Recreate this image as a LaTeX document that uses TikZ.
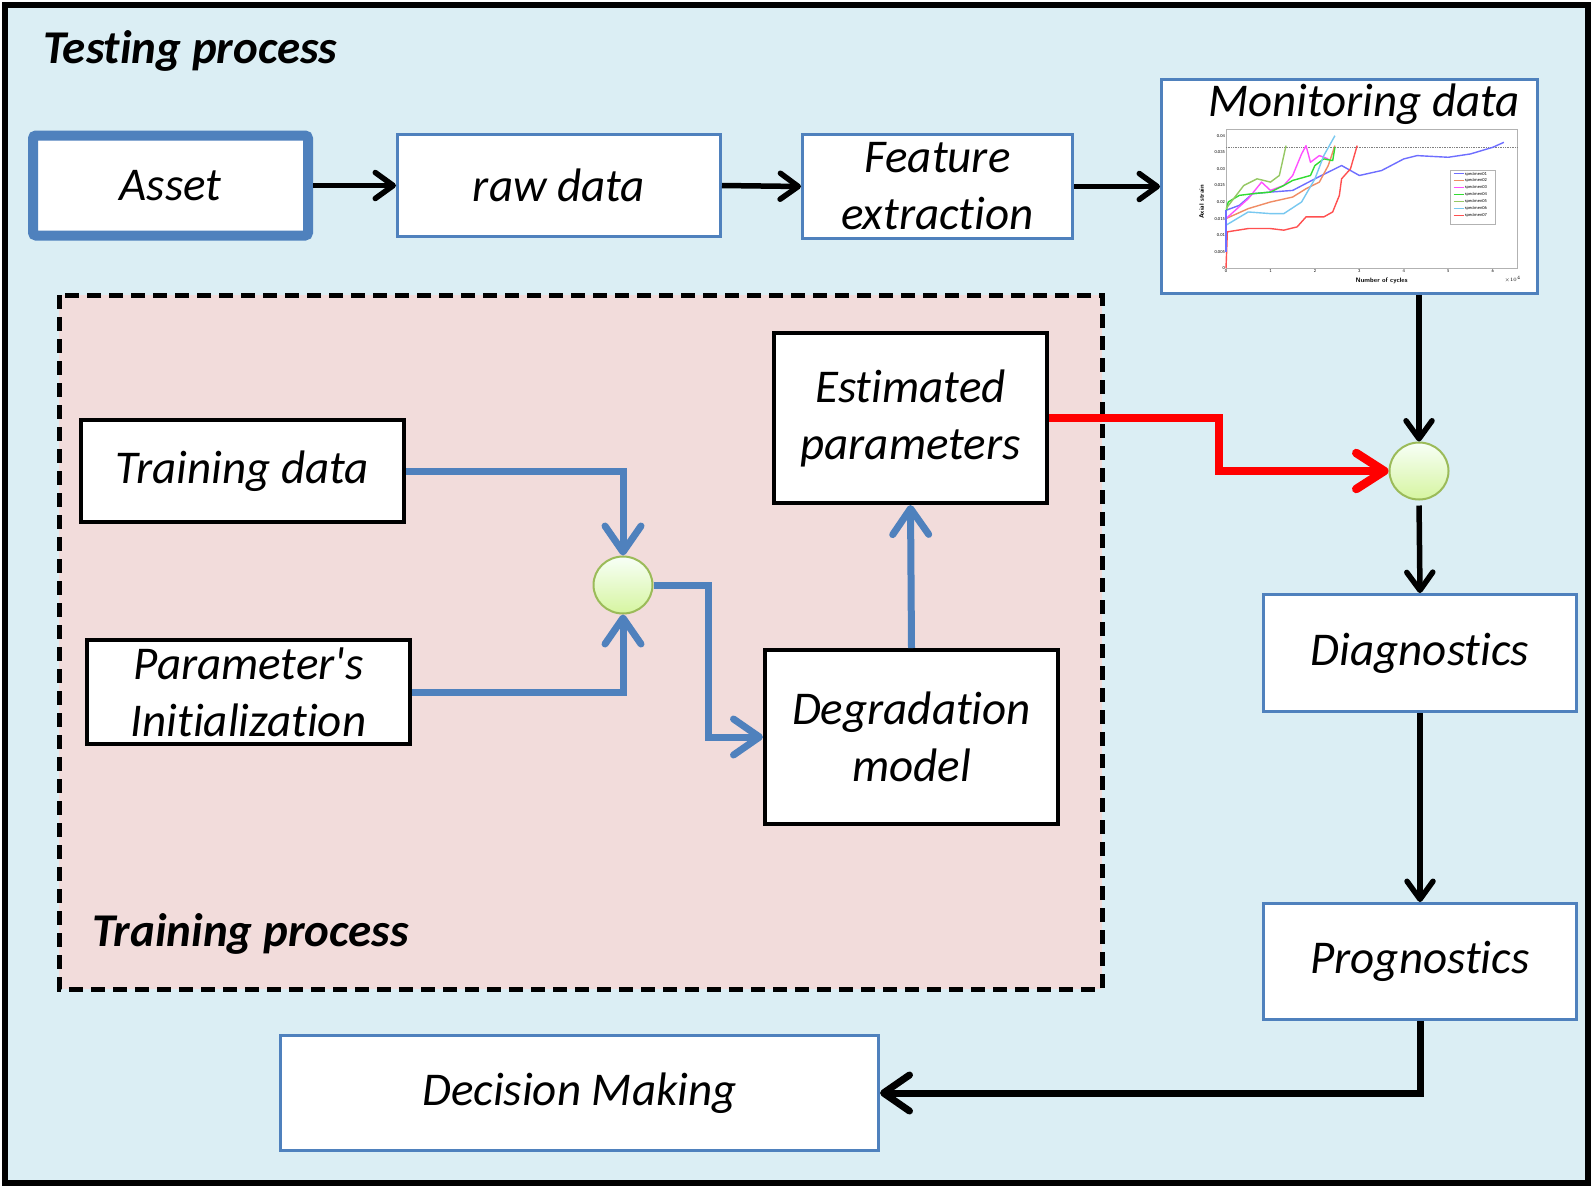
\documentclass[tikz,border=0pt]{standalone}
\usepackage{fontspec}
\setmainfont{Carlito}[Ligatures={NoCommon}]
\usetikzlibrary{arrows.meta,shapes.geometric,calc}
\definecolor{bgblue}{HTML}{DBEEF4}
\definecolor{bgpink}{HTML}{F2DCDB}
\definecolor{obl}{HTML}{4F81BD}
\definecolor{cgreen}{HTML}{9BBB59}
\definecolor{s1}{RGB}{110,110,255}
\definecolor{s2}{RGB}{240,140,100}
\definecolor{s3}{RGB}{255,80,255}
\definecolor{s4}{RGB}{50,220,50}
\definecolor{s5}{RGB}{150,200,100}
\definecolor{s6}{RGB}{120,200,240}
\definecolor{s7}{RGB}{255,80,80}
\tikzset{
  bigtxt/.style={font=\fontsize{47}{57}\selectfont\itshape, align=center},
  bluebox/.style={bigtxt, draw=obl, line width=3pt, fill=white, inner sep=0pt},
  blackbox/.style={bigtxt, draw=black, line width=4pt, fill=white, inner sep=0pt},
  junction/.style={ellipse, draw=cgreen, line width=2pt, top color=green!3!white, bottom color={rgb,255:red,214;green,245;blue,160}, minimum width=59pt, minimum height=57pt, inner sep=0pt},
  blackarr/.style={draw=black, line width=5.5pt, -{Straight Barb[length=18pt,width=26pt,round]}},
  bigblackarr/.style={draw=black, line width=7pt, -{Straight Barb[length=26pt,width=36pt,round]}},
  bluearr/.style={draw=obl, line width=7pt, -{Straight Barb[length=26pt,width=36pt,round]}},
  redarr/.style={draw=red, line width=8.5pt, -{Straight Barb[length=28pt,width=36pt,round]}},
  ttl/.style={font=\fontsize{47}{57}\selectfont\bfseries\itshape, anchor=west, inner sep=0pt},
  tick/.style={font=\fontsize{4.5}{5}\selectfont, inner sep=1pt},
  curve/.style={line width=1.4pt, line join=round}
}
\begin{document}
\begin{tikzpicture}[x=1pt,y=-1pt]
\useasboundingbox (0,0) rectangle (1593,1187);
% outer frame
\draw[line width=6pt, fill=bgblue] (5,5) rectangle (1588,1183);
\node[ttl] (tp) at (43,51) {Testing process};
% training area
\draw[line width=5pt, dash pattern=on 14pt off 8pt, fill=bgpink] (59,295) rectangle (1102,989);
\node[ttl] (trp) at (92,934) {Training process};

% top row
\node[bluebox, draw=obl, line width=10pt, rounded corners=3pt, minimum width=275pt, minimum height=100pt] (as) at (170.5,185.5) {Asset};
\node[bluebox, minimum width=323pt, minimum height=102pt] (rd) at (559,185.5) {raw data};
\node[bluebox, minimum width=270pt, minimum height=104pt] (fe) at (937.5,186.5) {Feature\\extraction};
\node[bluebox, minimum width=376pt, minimum height=214pt] (md) at (1349.5,186.5) {};
\node[bigtxt, inner sep=0pt] (mdt) at (1364,104) {Monitoring data};

% chart
\begin{scope}[shift={(1226,268.3)}, x=44.45pt, y=3315pt]
  \draw[gray!60, line width=0.4pt] (0,0) rectangle (6.55,0.0421);
  \draw[gray, densely dotted, line width=0.7pt] (0,0.0365) -- (6.55,0.0365);
  \foreach \t in {0,...,6} { \node[tick, below] at (\t,0) {\t}; }
  \foreach \v/\l in {0/0,0.005/0.005,0.01/0.01,0.015/0.015,0.02/0.02,0.025/0.025,0.03/0.03,0.035/0.035,0.04/0.04} { \node[tick, left] at (0,\v) {\l}; }
  \node[font=\fontsize{6.5}{7}\selectfont\bfseries\sffamily, rotate=90] (yl) at (-0.55,0.02) {Axial strain};
  \node[font=\fontsize{6.5}{7}\selectfont\bfseries\sffamily] (xl) at (3.5,-0.0037) {Number of cycles};
  \node[tick] (xe) at (6.45,-0.0033) {$\times10^4$};
  \draw[s1,curve] (0,0.0175) -- (0.3,0.019) -- (0.6,0.0225) -- (1,0.023) -- (1.5,0.0235) -- (2,0.027) -- (2.3,0.029) -- (2.6,0.031) -- (3,0.028) -- (3.5,0.0295) -- (4,0.033) -- (4.3,0.034) -- (5,0.0335) -- (5.5,0.0345) -- (6,0.0365) -- (6.25,0.038);
  \draw[s2,curve] (0,0.015) -- (0.5,0.018) -- (1,0.02) -- (1.5,0.0215) -- (1.8,0.024) -- (2.1,0.026) -- (2.3,0.031) -- (2.45,0.037);
  \draw[s3,curve] (0,0.015) -- (0.5,0.021) -- (0.8,0.026) -- (1,0.0235) -- (1.3,0.025) -- (1.5,0.028) -- (1.7,0.0345) -- (1.8,0.037) -- (1.9,0.032) -- (2.1,0.034) -- (2.3,0.033);
  \draw[s4,curve] (0,0.017) -- (0.05,0.02) -- (0.3,0.022) -- (0.6,0.0225) -- (1,0.023) -- (1.3,0.025) -- (1.5,0.0265) -- (1.9,0.028) -- (2,0.031) -- (2.2,0.033) -- (2.4,0.0325) -- (2.45,0.0365);
  \draw[s5,curve] (0,0.018) -- (0.4,0.025) -- (0.7,0.027) -- (1,0.026) -- (1.2,0.028) -- (1.35,0.037);
  \draw[s6,curve] (0,0.013) -- (0.5,0.017) -- (1,0.0165) -- (1.3,0.0165) -- (1.7,0.02) -- (2,0.027) -- (2.2,0.034) -- (2.45,0.04);
  \draw[s7,curve] (0,0) -- (0.03,0.011) -- (0.5,0.012) -- (1,0.012) -- (1.3,0.0115) -- (1.6,0.0125) -- (1.8,0.0155) -- (2.2,0.0155) -- (2.4,0.017) -- (2.55,0.022) -- (2.6,0.027) -- (2.8,0.03) -- (2.95,0.037);
  \draw[s1,curve] (0,0.0175) -- (0,0.005);
  % legend
  \draw[gray!60, fill=white, line width=0.3pt] (5.05,0.0296) rectangle (6.06,0.0133);
  \foreach \c/\n [count=\i] in {s1/01,s2/02,s3/03,s4/04,s5/05,s6/06,s7/07} {
    \draw[\c, line width=0.8pt] (5.12,{0.0285-(\i-1)*0.0021}) -- (5.35,{0.0285-(\i-1)*0.0021});
    \node[tick, anchor=west, inner sep=0pt] at (5.37,{0.0285-(\i-1)*0.0021}) {specimen\n};
  }
\end{scope}

% right column
\node[junction] (c2) at (1419,471) {};
\node[bluebox, minimum width=313pt, minimum height=117pt] (dg) at (1420,653) {Diagnostics};
\node[bluebox, minimum width=313pt, minimum height=116pt] (pg) at (1420,961.5) {Prognostics};
\node[bluebox, minimum width=598pt, minimum height=115pt] (dm2) at (579.5,1093) {Decision Making};

% training nodes
\node[blackbox, minimum width=323pt, minimum height=102pt] (td) at (242.5,471) {Training data};
\node[blackbox, minimum width=323pt, minimum height=104pt] (pi) at (248.5,692) {Parameter\textquotesingle s\\Initialization};
\node[blackbox, minimum width=273pt, minimum height=170pt] (ep) at (910.5,418) {Estimated\\parameters};
\node[blackbox, minimum width=293pt, minimum height=174pt] (dm) at (911.5,737) {Degradation\\model};
\node[junction] (c1) at (623,585) {};

% connectors
\draw[blackarr] (as.east) -- (rd.west);
\draw[blackarr] (rd.east) -- (fe.west);
\draw[blackarr] (fe.east) -- (md.west);
\draw[blackarr] (c2.north |- md.south) -- (c2.north);
\draw[blackarr, shorten <=5pt] (c2.south) -- (dg.north);
\draw[blackarr] (dg.south) -- (pg.north);
\draw[bigblackarr] (pg.south) |- (dm2.east);

\draw[bluearr] (td.east) -| (c1.north);
\draw[bluearr] (pi.east) -| (c1.south);
\draw[bluearr] (c1.east) -| ([xshift=-55pt]dm.west) -- (dm.west);
\draw[bluearr] (dm.north) -- (ep.south);
\draw[redarr] (ep.east) -- ++(170,0) |- (c2.west);
\end{tikzpicture}
\end{document}
